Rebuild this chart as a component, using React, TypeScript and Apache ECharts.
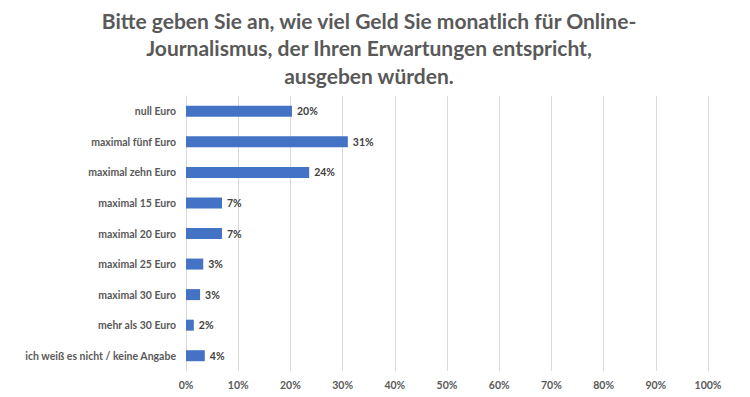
import React, { useEffect, useRef } from "react";
import * as echarts from "echarts";

const titleLines = [
  "Bitte geben Sie an, wie viel Geld Sie monatlich für Online-",
  "Journalismus, der Ihren Erwartungen entspricht,",
  "ausgeben würden.",
];
const categories = [
  "null Euro",
  "maximal fünf Euro",
  "maximal zehn Euro",
  "maximal 15 Euro",
  "maximal 20 Euro",
  "maximal 25 Euro",
  "maximal 30 Euro",
  "mehr als 30 Euro",
  "ich weiß es nicht / keine Angabe",
];
const values = [20.3, 31.0, 23.6, 6.9, 6.9, 3.3, 2.7, 1.5, 3.6];
const labels = ["20%", "31%", "24%", "7%", "7%", "3%", "3%", "2%", "4%"];

export default function App() {
  const ref = useRef<HTMLDivElement>(null);
  useEffect(() => {
    const chart = echarts.init(ref.current!, null, { renderer: "svg" });
    chart.setOption({
      animation: false,
      backgroundColor: "#ffffff",
      graphic: titleLines.map((t, i) => ({
        type: "text",
        x: 369,
        y: 20 + i * 27.5,
        style: {
          text: t,
          align: "center",
          verticalAlign: "middle",
          fontFamily: "Lato",
          fontWeight: "bold",
          fontSize: 21,
          fill: "#595959",
        },
      })),
      grid: { left: 186, right: 42, top: 96, bottom: 26, containLabel: false },
      xAxis: {
        type: "value",
        min: 0,
        max: 100,
        interval: 10,
        axisLabel: {
          formatter: "{value}%",
          fontFamily: "Lato",
          fontWeight: "bold",
          fontSize: 10.5,
          color: "#595959",
          margin: 8,
        },
        axisLine: { show: false },
        axisTick: { show: false },
        splitLine: { lineStyle: { color: "#d9d9d9", width: 1 } },
      },
      yAxis: {
        type: "category",
        inverse: true,
        data: categories,
        axisLabel: {
          fontFamily: "Lato",
          fontWeight: "bold",
          fontSize: 10.5,
          color: "#595959",
          margin: 10,
        },
        axisLine: { show: true, lineStyle: { color: "#d9d9d9" } },
        axisTick: { show: false },
      },
      series: [
        {
          type: "bar",
          data: values,
          barWidth: 11,
          itemStyle: { color: "#4472c4" },
          label: {
            show: true,
            position: "right",
            distance: 5,
            formatter: (p: any) => labels[p.dataIndex],
            fontFamily: "Lato",
            fontWeight: "bold",
            fontSize: 10.5,
            color: "#404040",
          },
        },
      ],
    });
    return () => chart.dispose();
  }, []);
  return (
    <div
      ref={ref}
      style={{ position: "absolute", left: 0, top: 0, width: 750, height: 397 }}
    />
  );
}
